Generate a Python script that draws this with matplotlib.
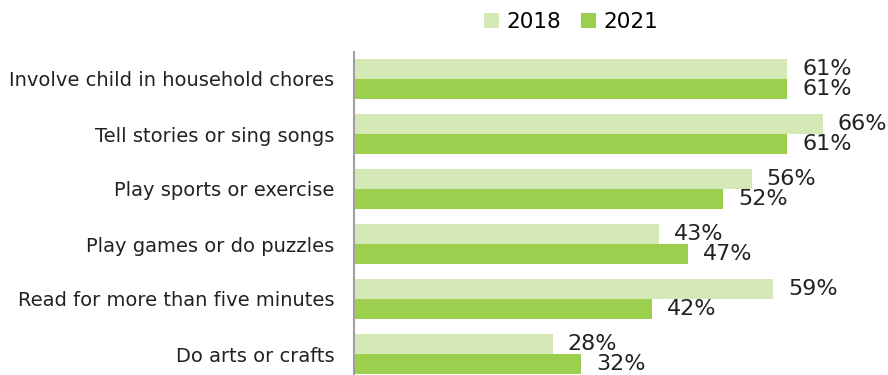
import matplotlib
matplotlib.use("Agg")
import matplotlib.pyplot as plt
import numpy as np

categories = [
    "Involve child in household chores",
    "Tell stories or sing songs",
    "Play sports or exercise",
    "Play games or do puzzles",
    "Read for more than five minutes",
    "Do arts or crafts",
]
values_2018 = [61, 66, 56, 43, 59, 28]
values_2021 = [61, 61, 52, 47, 42, 32]
series_names = ["2018", "2021"]

color_2018 = "#D4E9B6"
color_2021 = "#9CCF4D"

plt.rcParams["font.family"] = ["DejaVu Sans"]

fig = plt.figure(figsize=(8.88, 3.75), dpi=100)
ax = fig.add_axes([354 / 888, -6.5 / 375, 534 / 888, 330 / 375])

y = np.arange(len(categories))
h = 0.364
bars1 = ax.barh(y - h / 2, values_2018, height=h, color=color_2018, label=series_names[0])
bars2 = ax.barh(y + h / 2, values_2021, height=h, color=color_2021, label=series_names[1])

for bars, vals in ((bars1, values_2018), (bars2, values_2021)):
    for b, v in zip(bars, vals):
        ax.text(v + 2.1, b.get_y() + b.get_height() / 2, f"{v}%",
                va="center", ha="left", fontsize=16, color="#222222")

ax.set_xlim(0, 75.2)
ax.set_ylim(len(categories) - 0.5, -0.5)
ax.set_yticks(y)
ax.set_yticklabels(categories, fontsize=14, color="#222222")
ax.tick_params(axis="y", length=0, pad=14)
ax.set_xticks([])
for side in ("top", "right", "bottom"):
    ax.spines[side].set_visible(False)
ax.spines["left"].set_color("#A0A0A0")
ax.spines["left"].set_linewidth(1.5)

fig.legend(loc="center", bbox_to_anchor=(571 / 888, 1 - 22 / 375), ncol=2,
           frameon=False, fontsize=15.5, handlelength=0.7, handleheight=0.7,
           handletextpad=0.35, columnspacing=0.9)

fig.savefig("out.png", dpi=100)
